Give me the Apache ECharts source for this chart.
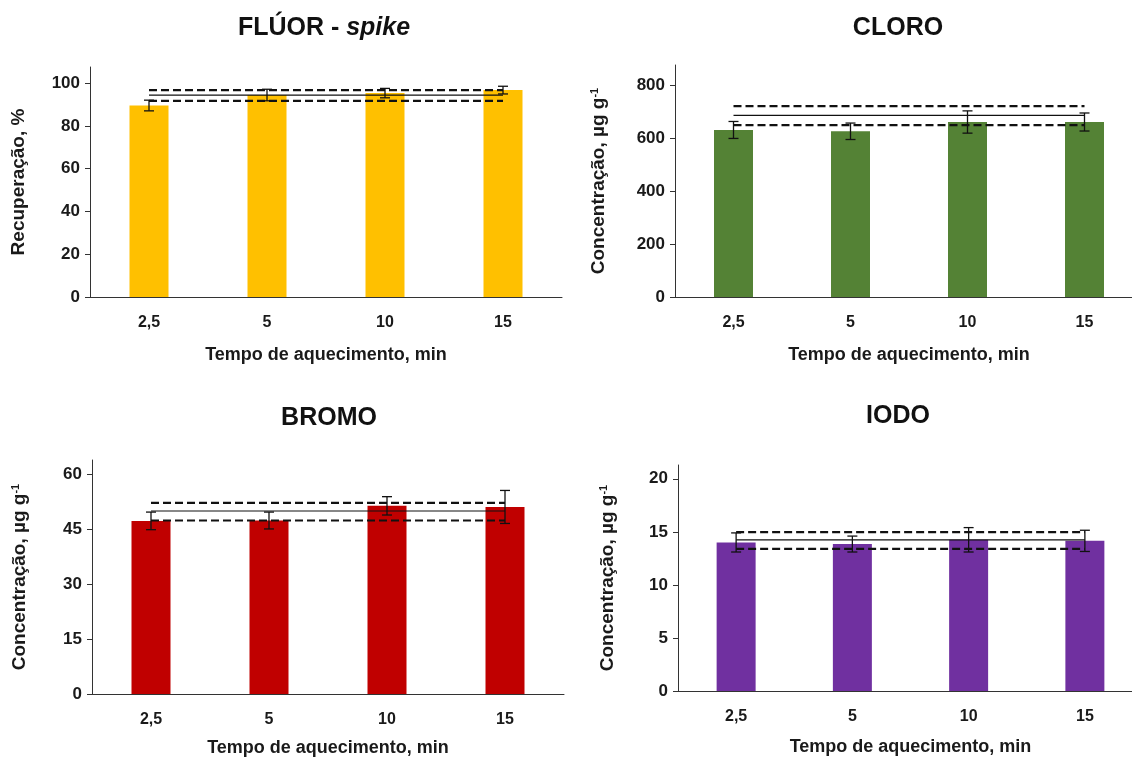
<!DOCTYPE html>
<html><head><meta charset="utf-8">
<script src="https://cdn.jsdelivr.net/npm/echarts@6/dist/echarts.min.js"></script>
<style>html,body{margin:0;padding:0;background:#fff}#c{width:1132px;height:758px}</style>
</head><body><div id="c"></div>
<script>
const categories = ['2,5', '5', '10', '15'];

const fluorMean = [89.5, 94.4, 95.3, 96.7];
const fluorErr  = [2.5, 2.7, 2.2, 1.8];
const fluorRef  = [91.7, 94.4, 96.7]; // low, mean, high

const cloroMean = [630, 625, 660, 660];
const cloroErr  = [32, 31, 42, 34];
const cloroRef  = [648, 685, 720];

const bromoMean = [47.2, 47.3, 51.3, 51.0];
const bromoErr  = [2.4, 2.3, 2.5, 4.5];
const bromoRef  = [47.3, 49.9, 52.1];

const iodoMean = [14.0, 13.85, 14.25, 14.15];
const iodoErr  = [0.9, 0.75, 1.15, 1.0];
const iodoRef  = [13.39, 14.24, 14.97];

const fluorTicks = [0, 20, 40, 60, 80, 100];
const cloroTicks = [0, 200, 400, 600, 800];
const bromoTicks = [0, 15, 30, 45, 60];
const iodoTicks  = [0, 5, 10, 15, 20];

const FONT = 'Liberation Sans, Arial, sans-serif';
const TXT = '#1a1a1a';

const panels = [
  {mean: fluorMean, err: fluorErr, ref: fluorRef, ticks: fluorTicks, max: 107.5, color: '#FFC000',
   grid: {left: 90, top: 67, width: 472, height: 230}, yName: 'Recuperação, %', yGap: 62, xGap: 49},
  {mean: cloroMean, err: cloroErr, ref: cloroRef, ticks: cloroTicks, max: 875, color: '#548235',
   grid: {left: 675, top: 65, width: 468, height: 232}, yName: 'Concentração, µg g{sup|-1}', yGap: 66, xGap: 49},
  {mean: bromoMean, err: bromoErr, ref: bromoRef, ticks: bromoTicks, max: 63.8, color: '#C00000',
   grid: {left: 92, top: 460, width: 472, height: 234}, yName: 'Concentração, µg g{sup|-1}', yGap: 62, xGap: 45},
  {mean: iodoMean, err: iodoErr, ref: iodoRef, ticks: iodoTicks, max: 21.3, color: '#7030A0',
   grid: {left: 678, top: 465, width: 465, height: 226}, yName: 'Concentração, µg g{sup|-1}', yGap: 60, xGap: 47}
];

const grids = [], xAxes = [], yAxes = [], series = [];
panels.forEach((p, i) => {
  grids.push(Object.assign({outerBoundsMode: 'none', containLabel: false}, p.grid));
  xAxes.push({
    type: 'category', gridIndex: i, data: categories,
    axisLine: {lineStyle: {color: '#333', width: 1}},
    axisTick: {show: false},
    axisLabel: {color: TXT, fontFamily: FONT, fontWeight: 'bold', fontSize: 16, margin: 18},
    name: 'Tempo de aquecimento, min', nameLocation: 'middle', nameGap: p.xGap,
    nameTextStyle: {color: TXT, fontFamily: FONT, fontWeight: 'bold', fontSize: 18}
  });
  yAxes.push({
    type: 'value', gridIndex: i, min: 0, max: p.max,
    splitLine: {show: false},
    axisLine: {show: true, lineStyle: {color: '#333', width: 1}},
    axisTick: {show: true, length: 5, customValues: p.ticks, lineStyle: {color: '#333'}},
    axisLabel: {customValues: p.ticks, color: TXT, fontFamily: FONT, fontWeight: 'bold', fontSize: 17, margin: 10},
    name: p.yName, nameLocation: 'middle', nameGap: p.yGap, nameRotate: 90,
    nameTextStyle: {color: TXT, fontFamily: FONT, fontWeight: 'bold', fontSize: 19,
      rich: {sup: {fontSize: 11, fontWeight: 'bold', fontFamily: FONT, color: TXT, verticalAlign: 'top', padding: [0,0,9,0]}}}
  });
  series.push({
    type: 'bar', xAxisIndex: i, yAxisIndex: i, data: p.mean, barWidth: 39,
    itemStyle: {color: p.color}, z: 2
  });
  const refStyles = [
    {type: [8, 4], width: 2.2},
    {type: 'solid', width: 1.2},
    {type: [8, 4], width: 2.2}
  ];
  p.ref.forEach((v, k) => {
    series.push({
      type: 'line', xAxisIndex: i, yAxisIndex: i,
      data: categories.map(() => v), symbol: 'none', silent: true,
      lineStyle: Object.assign({color: '#111'}, refStyles[k]), z: 4
    });
  });
  series.push({
    type: 'custom', xAxisIndex: i, yAxisIndex: i, z: 5,
    data: p.mean.map((m, k) => [k, m - p.err[k], m + p.err[k]]),
    renderItem: function (params, api) {
      const x = api.value(0);
      const lo = api.coord([x, api.value(1)]);
      const hi = api.coord([x, api.value(2)]);
      const w = 5;
      const st = {stroke: '#111', lineWidth: 1.3};
      return {type: 'group', children: [
        {type: 'line', shape: {x1: hi[0], y1: hi[1], x2: lo[0], y2: lo[1]}, style: st},
        {type: 'line', shape: {x1: hi[0] - w, y1: hi[1], x2: hi[0] + w, y2: hi[1]}, style: st},
        {type: 'line', shape: {x1: lo[0] - w, y1: lo[1], x2: lo[0] + w, y2: lo[1]}, style: st}
      ]};
    }
  });
});

const TS = 25;
const titleStyle = {fontFamily: FONT, fontWeight: 'bold', fontSize: TS, fill: '#111', textAlign: 'center', textVerticalAlign: 'middle'};
const graphic = [
  {type: 'text', x: 324, y: 28, style: Object.assign({}, titleStyle, {
     text: '{n|FLÚOR - }{i|spike}',
     rich: {n: {fontFamily: FONT, fontWeight: 'bold', fontSize: TS, fill: '#111'},
            i: {fontFamily: FONT, fontWeight: 'bold', fontStyle: 'italic', fontSize: TS, fill: '#111'}}})},
  {type: 'text', x: 898, y: 28, style: Object.assign({}, titleStyle, {text: 'CLORO'})},
  {type: 'text', x: 329, y: 418, style: Object.assign({}, titleStyle, {text: 'BROMO'})},
  {type: 'text', x: 898, y: 416, style: Object.assign({}, titleStyle, {text: 'IODO'})}
];

const chart = echarts.init(document.getElementById('c'));
chart.setOption({
  backgroundColor: '#fff',
  animation: false,
  grid: grids, xAxis: xAxes, yAxis: yAxes, series: series,
  graphic: graphic
});
</script></body></html>
